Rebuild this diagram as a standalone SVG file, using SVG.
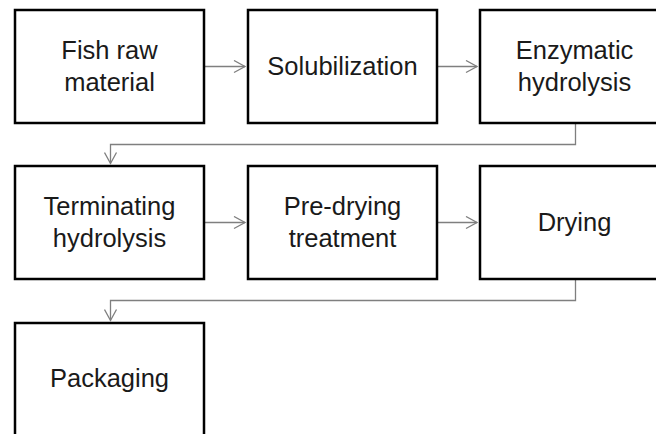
<svg xmlns="http://www.w3.org/2000/svg" width="656" height="434" viewBox="0 0 656 434">
<style>
.box{fill:#fff;stroke:#000;stroke-width:2.5}
.lbl{font-family:"Liberation Sans",Arial,sans-serif;font-size:25.5px;fill:#1a1a1a;text-anchor:middle}
.con{fill:none;stroke:#7f7f7f;stroke-width:1.3}
</style>
<defs>
<marker id="ah" markerWidth="14" markerHeight="14" refX="12" refY="7" orient="auto" markerUnits="userSpaceOnUse">
<path d="M1,1 L12,7 L1,13" fill="none" stroke="#7f7f7f" stroke-width="1.3"/>
</marker>
</defs>
<rect width="656" height="434" fill="#fff"/>
<g id="connectors">
<line class="con" x1="204" y1="66.5" x2="245" y2="66.5" marker-end="url(#ah)"/>
<line class="con" x1="437" y1="66.5" x2="477" y2="66.5" marker-end="url(#ah)"/>
<polyline class="con" points="575.5,123 575.5,144.5 110.5,144.5 110.5,163.5" marker-end="url(#ah)"/>
<line class="con" x1="204" y1="222.5" x2="245" y2="222.5" marker-end="url(#ah)"/>
<line class="con" x1="437" y1="222.5" x2="477" y2="222.5" marker-end="url(#ah)"/>
<polyline class="con" points="575.5,279 575.5,300.5 110.5,300.5 110.5,320.5" marker-end="url(#ah)"/>
</g>
<g id="n1"><rect class="box" x="15" y="10" width="189" height="113"/><text class="lbl" x="109.5" y="59">Fish raw</text><text class="lbl" x="109.5" y="91">material</text></g>
<g id="n2"><rect class="box" x="248" y="10" width="189" height="113"/><text class="lbl" x="342.5" y="75">Solubilization</text></g>
<g id="n3"><rect class="box" x="480" y="10" width="189" height="113"/><text class="lbl" x="574.5" y="59">Enzymatic</text><text class="lbl" x="574.5" y="91">hydrolysis</text></g>
<g id="n4"><rect class="box" x="15" y="166" width="189" height="113"/><text class="lbl" x="109.5" y="215">Terminating</text><text class="lbl" x="109.5" y="247">hydrolysis</text></g>
<g id="n5"><rect class="box" x="248" y="166" width="189" height="113"/><text class="lbl" x="342.5" y="215">Pre-drying</text><text class="lbl" x="342.5" y="247">treatment</text></g>
<g id="n6"><rect class="box" x="480" y="166" width="189" height="113"/><text class="lbl" x="574.5" y="231">Drying</text></g>
<g id="n7"><rect class="box" x="15" y="323" width="189" height="125"/><text class="lbl" x="109.5" y="387">Packaging</text></g>
</svg>
